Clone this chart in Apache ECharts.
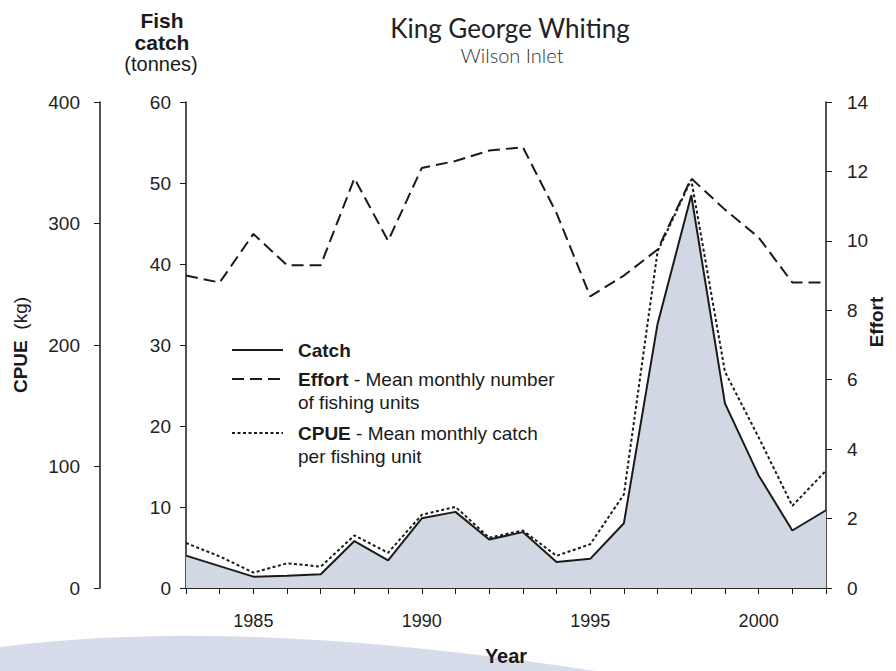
<!DOCTYPE html>
<html>
<head>
<meta charset="utf-8">
<script src="https://cdn.jsdelivr.net/npm/echarts@6/dist/echarts.min.js"></script>
<style>
  html, body { margin: 0; padding: 0; background: #fff; }
  #chart { width: 896px; height: 671px; }
</style>
</head>
<body>
<div id="chart"></div>
<script>
(function () {
  var years = [1983, 1984, 1985, 1986, 1987, 1988, 1989, 1990, 1991, 1992,
               1993, 1994, 1995, 1996, 1997, 1998, 1999, 2000, 2001, 2002];
  // catch in tonnes
  var catchT = [4.0, 2.7, 1.4, 1.5, 1.7, 5.8, 3.4, 8.6, 9.4, 6.0,
                6.9, 3.2, 3.6, 8.0, 32.6, 48.5, 22.8, 13.9, 7.1, 9.6];
  // mean monthly number of fishing units
  var effort = [9.0, 8.8, 10.2, 9.3, 9.3, 11.8, 10.0, 12.1, 12.3, 12.6,
                12.7, 10.8, 8.4, 9.0, 9.75, 11.8, 10.9, 10.1, 8.8, 8.8];
  // CPUE in kg
  var cpue = [37, 26, 12.7, 20.3, 17.6, 43.3, 29, 60.3, 66.8, 41.4,
              47.3, 26.5, 36, 77, 277, 336, 178, 124, 67.6, 96.6];

  var ink = '#1a1a1a';
  var fill = '#d1d8e4';
  var font = 'Liberation Sans, Arial, sans-serif';

  function pairs(vals) {
    return years.map(function (y, i) { return [y, vals[i]]; });
  }

  // decorative swoosh outline (quadratic curve)
  var swoosh = [[0, 671]];
  for (var t = 0; t <= 1.0001; t += 0.05) {
    var u = 1 - t;
    swoosh.push([2 * u * t * 240 + t * t * 595,
                 u * u * 647 + 2 * u * t * 616 + t * t * 671]);
  }

  var axisLine = { show: true, lineStyle: { color: ink, width: 1.5 } };
  var tick = { show: true, length: 6, lineStyle: { color: ink, width: 1 } };
  var lbl = { color: '#222', fontSize: 19, fontFamily: font };

  var chart = echarts.init(document.getElementById('chart'), null, { renderer: 'svg' });
  chart.setOption({
    animation: false,
    grid: { left: 186, right: 70, top: 102, bottom: 76 },
    xAxis: [{
      type: 'value', min: 1983, max: 2002, interval: 1,
      axisLine: axisLine, axisTick: tick,
      splitLine: { show: false },
      axisLabel: {
        color: '#222', fontSize: 18, fontFamily: font, margin: 24,
        formatter: function (v) { return v % 5 === 0 ? String(v) : ''; }
      },
      name: 'Year', nameLocation: 'middle', nameGap: 58,
      nameTextStyle: { color: ink, fontSize: 20, fontWeight: 'bold', fontFamily: font }
    }, {
      type: 'value', position: 'top', min: 1983, max: 2002,
      axisLine: axisLine, axisTick: { show: false }, axisLabel: { show: false },
      splitLine: { show: false }
    }],
    yAxis: [{
      type: 'value', position: 'left', min: 0, max: 60, interval: 10,
      axisLine: axisLine, axisTick: tick, splitLine: { show: false },
      axisLabel: Object.assign({ margin: 15 }, lbl)
    }, {
      type: 'value', position: 'left', offset: 86, min: 0, max: 400, interval: 100,
      axisLine: axisLine, axisTick: tick, splitLine: { show: false },
      axisLabel: Object.assign({ margin: 20 }, lbl),
      name: '{b|CPUE}  (kg)', nameLocation: 'middle', nameGap: 70, nameRotate: 90,
      nameTextStyle: {
        color: ink, fontSize: 19, fontFamily: font,
        rich: { b: { fontWeight: 'bold', fontSize: 19, fontFamily: font, color: ink } }
      }
    }, {
      type: 'value', position: 'right', min: 0, max: 14, interval: 2,
      axisLine: axisLine, axisTick: tick, splitLine: { show: false },
      axisLabel: Object.assign({ margin: 21 }, lbl)
    }],
    series: [{
      name: 'Catch', type: 'line', yAxisIndex: 0, data: pairs(catchT),
      symbol: 'none', z: 3,
      lineStyle: { color: ink, width: 2 },
      areaStyle: { color: fill, opacity: 1 }
    }, {
      name: 'Effort', type: 'line', yAxisIndex: 2, data: pairs(effort),
      symbol: 'none', z: 4,
      lineStyle: { color: ink, width: 2, type: [12, 6] }
    }, {
      name: 'CPUE', type: 'line', yAxisIndex: 1, data: pairs(cpue),
      symbol: 'none', z: 5,
      lineStyle: { color: ink, width: 2, type: [3, 2.5] }
    }],
    graphic: [
      { type: 'polygon', z: -10, shape: { points: swoosh }, style: { fill: '#d6dcea' } },
      // title
      { type: 'text', x: 510, y: 28, style: { text: 'King George Whiting', font: '26px Lato, sans-serif',
        fill: '#222', align: 'center', verticalAlign: 'middle' } },
      { type: 'text', x: 512, y: 55, style: { text: 'Wilson Inlet', font: '300 20px Lato, sans-serif',
        fill: '#333', align: 'center', verticalAlign: 'middle' } },
      // left axis title
      { type: 'text', x: 162, y: 20, style: { text: 'Fish', font: 'bold 21px ' + font, fill: ink, align: 'center', verticalAlign: 'middle' } },
      { type: 'text', x: 162, y: 42, style: { text: 'catch', font: 'bold 21px ' + font, fill: ink, align: 'center', verticalAlign: 'middle' } },
      { type: 'text', x: 161, y: 64, style: { text: '(tonnes)', font: '20px ' + font, fill: ink, align: 'center', verticalAlign: 'middle' } },
      // right axis title
      { type: 'text', x: 876, y: 322, rotation: Math.PI / 2,
        style: { text: 'Effort', font: 'bold 19px ' + font, fill: ink, align: 'center', verticalAlign: 'middle' } },
      // legend
      { type: 'line', shape: { x1: 232, y1: 350, x2: 283, y2: 350 }, style: { stroke: ink, lineWidth: 2 } },
      { type: 'line', shape: { x1: 232, y1: 379, x2: 283, y2: 379 }, style: { stroke: ink, lineWidth: 2, lineDash: [12, 6] } },
      { type: 'line', shape: { x1: 232, y1: 433, x2: 283, y2: 433 }, style: { stroke: ink, lineWidth: 2, lineDash: [3, 2.5] } },
      { type: 'text', x: 298, y: 350, style: { text: '{b|Catch}', verticalAlign: 'middle',
        rich: { b: { font: 'bold 19px ' + font, fill: ink } } } },
      { type: 'text', x: 298, y: 379, style: { text: '{b|Effort}{n| - Mean monthly number}', verticalAlign: 'middle',
        rich: { b: { font: 'bold 19px ' + font, fill: ink }, n: { font: '19px ' + font, fill: ink } } } },
      { type: 'text', x: 298, y: 402, style: { text: 'of fishing units', verticalAlign: 'middle', font: '19px ' + font, fill: ink } },
      { type: 'text', x: 298, y: 433, style: { text: '{b|CPUE}{n| - Mean monthly catch}', verticalAlign: 'middle',
        rich: { b: { font: 'bold 19px ' + font, fill: ink }, n: { font: '19px ' + font, fill: ink } } } },
      { type: 'text', x: 298, y: 456, style: { text: 'per fishing unit', verticalAlign: 'middle', font: '19px ' + font, fill: ink } }
    ]
  });
})();
</script>
</body>
</html>
